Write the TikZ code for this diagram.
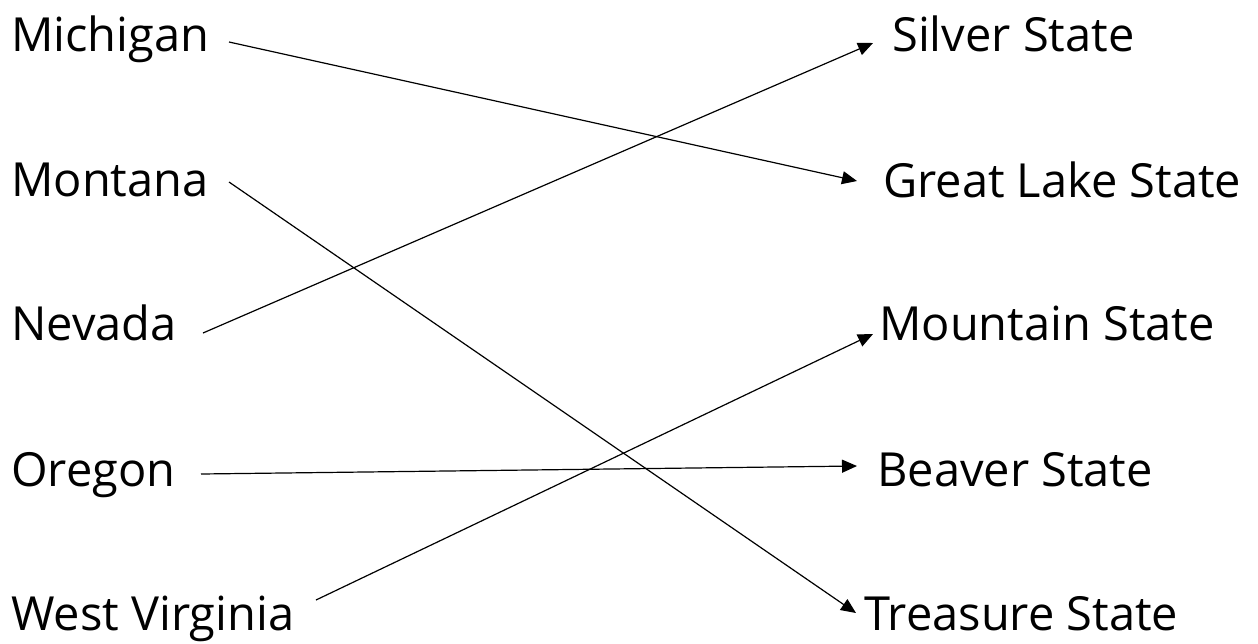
\documentclass[tikz,border=0pt]{standalone}
\usepackage{fontspec}
\setmainfont{Open Sans}
\usetikzlibrary{arrows.meta}
\begin{document}
\begin{tikzpicture}[x=1pt,y=-1pt,
  lbl/.style={inner sep=0pt,anchor=base west,font=\fontsize{47}{47}\selectfont},
  link/.style={line width=1.2pt,-{Triangle[length=15pt,width=13pt]}}]
\useasboundingbox (0,0) rectangle (1258,643);
% states (left column)
\node[lbl] (mi) at (11,51) {Michigan};
\node[lbl] (mt) at (11,196) {Montana};
\node[lbl] (nv) at (11,340) {Nevada};
\node[lbl] (or) at (11,486) {Oregon};
\node[lbl] (wv) at (11,630) {West Virginia};
% nicknames (right column)
\node[lbl] (ss) at (892,51) {Silver State};
\node[lbl] (gl) at (883,197) {Great Lake State};
\node[lbl] (ms) at (879,340) {Mountain State};
\node[lbl] (bs) at (877,486) {Beaver State};
\node[lbl] (ts) at (864,630) {Treasure State};
% connector end points
\coordinate (mi-o) at (229,42);
\coordinate (mt-o) at (229,182);
\coordinate (nv-o) at (203,333);
\coordinate (or-o) at (201,474);
\coordinate (wv-o) at (316,600);
\coordinate (ss-i) at (873,43);
\coordinate (gl-i) at (857,181);
\coordinate (ms-i) at (873,334);
\coordinate (bs-i) at (857,466);
\coordinate (ts-i) at (856,613);
% matches
\draw[link] (mi-o) -- (gl-i);
\draw[link] (mt-o) -- (ts-i);
\draw[link] (nv-o) -- (ss-i);
\draw[link] (or-o) -- (bs-i);
\draw[link] (wv-o) -- (ms-i);
\end{tikzpicture}
\end{document}
